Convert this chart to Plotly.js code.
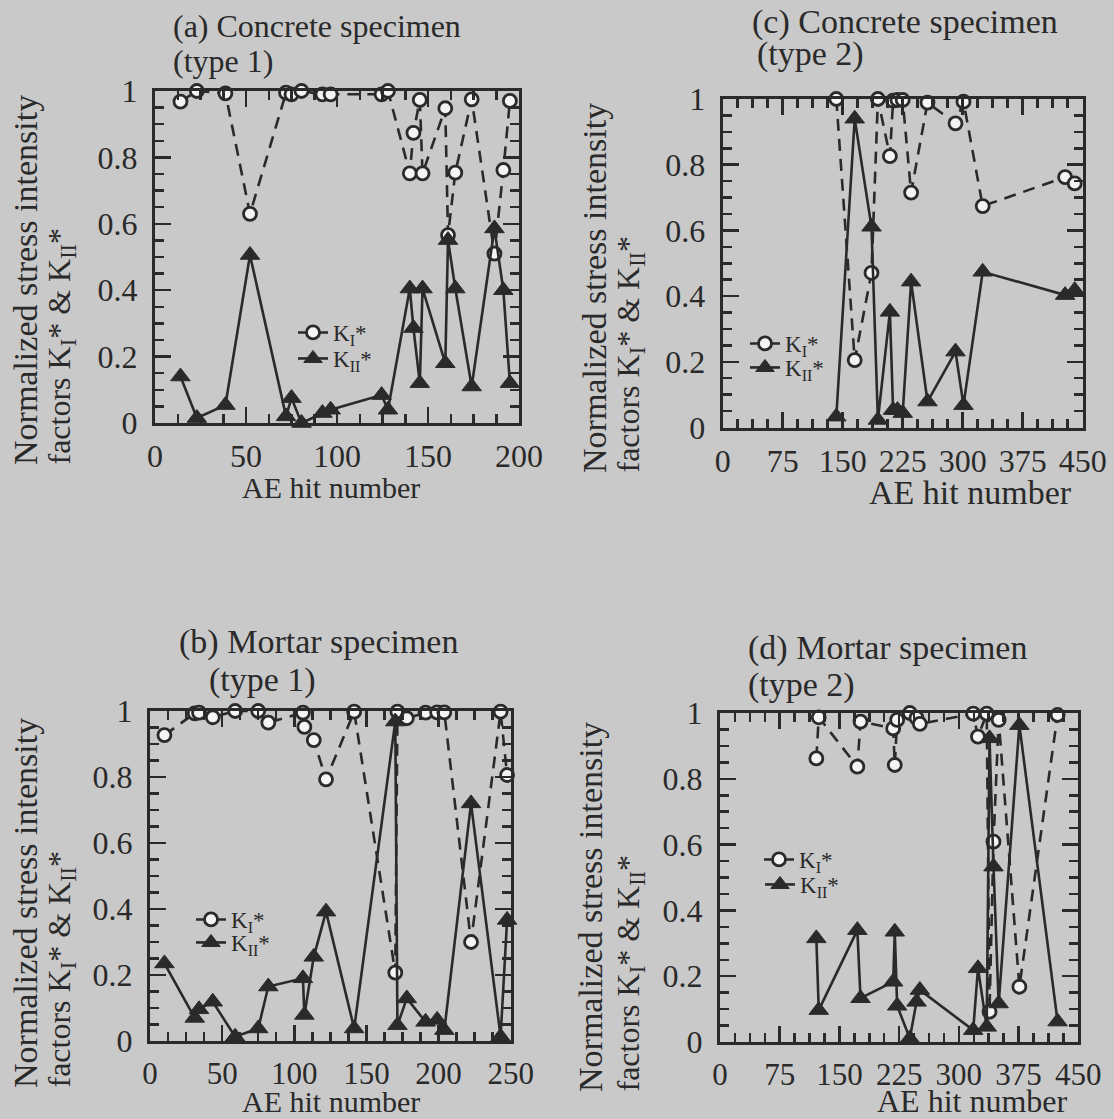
<!DOCTYPE html>
<html>
<head>
<meta charset="utf-8">
<script src="https://cdn.plot.ly/plotly-3.0.1.min.js"></script>
<style>html,body{margin:0;padding:0;background:#c9c9c9;}#chart{width:1114px;height:1119px;}</style>
</head>
<body>
<div id="chart"></div>
<script>
// ---- Data ----
// (a) Concrete specimen (type 1)
const aHits = [14, 23, 38.7, 52.2, 72, 75, 80.5, 92, 96.5, 124.5, 128, 140, 142, 145.5, 147, 159.5, 161, 165, 174, 186.5, 191.4, 195];
const aKI   = [0.968, 1.0, 0.993, 0.63, 0.995, 0.99, 1.0, 0.99, 0.99, 0.99, 1.0, 0.752, 0.874, 0.973, 0.752, 0.948, 0.566, 0.754, 0.975, 0.51, 0.762, 0.97];
const aKII  = [0.14, 0.015, 0.054, 0.506, 0.02, 0.075, 0.0, 0.03, 0.04, 0.084, 0.04, 0.405, 0.286, 0.12, 0.405, 0.18, 0.551, 0.405, 0.11, 0.586, 0.40, 0.12];
// (c) Concrete specimen (type 2)
const cHits = [142, 165, 186, 194, 209, 213, 218.5, 225, 235.5, 256, 291, 301, 325, 428, 440];
const cKI   = [1.0, 0.205, 0.471, 1.0, 0.826, 0.995, 0.997, 0.997, 0.715, 0.989, 0.926, 0.992, 0.674, 0.762, 0.743];
const cKII  = [0.033, 0.94, 0.611, 0.023, 0.352, 0.053, 0.053, 0.044, 0.444, 0.079, 0.231, 0.068, 0.474, 0.403, 0.418];
// (b) Mortar specimen (type 1)
const bHits = [10, 31, 34, 43.5, 59, 75, 82, 106, 107, 113.5, 122, 141.5, 170, 171.5, 178, 191, 199, 204, 222.5, 243, 247.5];
const bKI   = [0.927, 0.993, 0.995, 0.981, 1.0, 1.0, 0.965, 0.995, 0.952, 0.912, 0.793, 0.998, 0.207, 0.998, 0.978, 0.995, 0.996, 0.996, 0.30, 0.998, 0.806];
const bKII  = [0.235, 0.07, 0.096, 0.119, 0.013, 0.038, 0.165, 0.19, 0.079, 0.255, 0.392, 0.038, 0.968, 0.048, 0.129, 0.058, 0.064, 0.033, 0.72, 0.013, 0.367];
// (d) Mortar specimen (type 2)
const dHits = [121, 124, 172.5, 176.5, 217.5, 219.5, 222.5, 238.4, 246.8, 251, 318, 324, 335, 338.5, 343.5, 350, 376, 424];
const dKI   = [0.862, 0.987, 0.837, 0.974, 0.953, 0.842, 0.979, 1.0, 0.985, 0.967, 0.998, 0.928, 0.998, 0.092, 0.609, 0.979, 0.168, 0.994];
const dKII  = [0.315, 0.097, 0.34, 0.133, 0.183, 0.335, 0.11, 0.011, 0.122, 0.158, 0.036, 0.224, 0.046, 0.923, 0.533, 0.117, 0.963, 0.062];

const panelTitles = [
  ["(a) Concrete specimen", "(type 1)"],
  ["(c) Concrete specimen", "(type 2)"],
  ["(b) Mortar specimen", "(type 1)"],
  ["(d) Mortar specimen", "(type 2)"]
];
const yTitle1 = "Normalized stress intensity";
const yTitle2 = "factors K<sub>I</sub>* & K<sub>II</sub>*";
const xTitle = "AE hit number";
const nameKI = "K<sub>I</sub>*";
const nameKII = "K<sub>II</sub>*";

// ---- Layout constants ----
const W = 1114, H = 1119;
const FONT = '"Liberation Serif", "Times New Roman", Times, serif';
const INK = '#2a2a2a';
const BG = '#c9c9c9';

// legend symbol centres: [KI x, KI y, KII x, KII y]
const panels = [
  {hits: aHits, ki: aKI, kii: aKII, px: [155, 519], py: [91, 423], xr: [0, 200], dt: 50, mdt: 12.5,
   title: panelTitles[0], tfs: 32, tpos: [[171, 26], [171, 61]], ytx: [25, 61], yb: 467, xt: [331, 488], xfs: 30, xya: 'middle', xtf: 32,
   leg: [313, 331, 313, 357]},
  {hits: cHits, ki: cKI, kii: cKII, px: [722.7, 1082.7], py: [99, 427.5], xr: [0, 450], dt: 75, mdt: 18.75,
   title: panelTitles[1], tfs: 34, tpos: [[750, 22], [755, 54]], ytx: [594, 630], yb: 475, xt: [970, 492], xfs: 34, xya: 'middle', xtf: 32,
   leg: [765, 342, 765, 366]},
  {hits: bHits, ki: bKI, kii: bKII, px: [150, 510.7], py: [711, 1041], xr: [0, 250], dt: 50, mdt: 12.5,
   title: panelTitles[2], tfs: 34, tpos: [[177, 642], [207, 680]], ytx: [25, 61], yb: 1090, xt: [331, 1120], xfs: 30, xya: 'bottom', xtf: 31,
   leg: [211, 918, 211, 941]},
  {hits: dHits, ki: dKI, kii: dKII, px: [720, 1078.3], py: [713, 1042], xr: [0, 450], dt: 75, mdt: 18.75,
   title: panelTitles[3], tfs: 34, tpos: [[746, 648], [746, 685]], ytx: [590, 630], yb: 1094, xt: [972, 1121], xfs: 32, xya: 'bottom', xtf: 31,
   leg: [779, 858, 780, 883]}
];

const data = [];
const layout = {
  width: W, height: H,
  margin: {l: 0, r: 0, t: 0, b: 0},
  paper_bgcolor: BG, plot_bgcolor: BG,
  font: {family: FONT, color: INK, size: 30},
  showlegend: true,
  annotations: []
};

function legendAt(cx, cy) {
  return {
    x: (cx - 20) / W, y: 1 - (cy - 20) / H, xanchor: 'left', yanchor: 'top',
    bgcolor: 'rgba(0,0,0,0)', borderwidth: 0, font: {family: FONT, size: 23, color: INK},
    tracegroupgap: 0, itemwidth: 30
  };
}

panels.forEach((p, i) => {
  const n = i === 0 ? '' : String(i + 1);
  const xa = 'x' + n, ya = 'y' + n;
  const legKI = i === 0 ? 'legend' : 'legend' + (2 * i + 1);
  const legKII = 'legend' + (2 * i + 2);
  data.push({
    x: p.hits, y: p.ki, xaxis: xa, yaxis: ya, type: 'scatter', mode: 'lines+markers',
    name: nameKI, legend: legKI, cliponaxis: false,
    line: {color: INK, width: 2.6, dash: '12px,8px'},
    marker: {symbol: 'circle', size: 13, color: '#f4f4f4', line: {color: INK, width: 2.8}}
  });
  data.push({
    x: p.hits, y: p.kii, xaxis: xa, yaxis: ya, type: 'scatter', mode: 'lines+markers',
    name: nameKII, legend: legKII, cliponaxis: false,
    line: {color: INK, width: 2.6},
    marker: {symbol: 'triangle-up', size: 17, color: INK, line: {color: INK, width: 1}}
  });
  const axCommon = {
    showgrid: false, zeroline: false, showline: true, linecolor: INK, linewidth: 3,
    mirror: 'allticks', ticks: 'inside', tickcolor: INK, tickwidth: 2.5, ticklen: 16,
    tickfont: {family: FONT, size: 32, color: INK}, fixedrange: true
  };
  layout['xaxis' + n] = Object.assign({}, axCommon, {
    domain: [p.px[0] / W, p.px[1] / W], anchor: ya, range: p.xr, dtick: p.dt, tick0: 0,
    ticklabelstandoff: 3, tickfont: {family: FONT, size: p.xtf, color: INK},
    minor: {dtick: p.mdt, tick0: 0, ticks: 'inside', ticklen: 9, tickwidth: 2.5, tickcolor: INK}
  });
  layout['yaxis' + n] = Object.assign({}, axCommon, {
    domain: [1 - p.py[1] / H, 1 - p.py[0] / H], anchor: xa, range: [0, 1], dtick: 0.2, tick0: 0,
    ticklabelstandoff: 8,
    minor: {dtick: 0.05, tick0: 0, ticks: 'inside', ticklen: 9, tickwidth: 2.5, tickcolor: INK}
  });
  layout[legKI] = legendAt(p.leg[0], p.leg[1]);
  layout[legKII] = legendAt(p.leg[2], p.leg[3]);
  // panel titles
  p.title.forEach((t, k) => {
    layout.annotations.push({
      xref: 'paper', yref: 'paper', x: p.tpos[k][0] / W, y: 1 - p.tpos[k][1] / H,
      xanchor: 'left', yanchor: 'middle', showarrow: false, text: t,
      font: {family: FONT, size: p.tfs, color: INK}
    });
  });
  // y titles (rotated)
  [yTitle1, yTitle2].forEach((t, k) => {
    layout.annotations.push({
      xref: 'paper', yref: 'paper', x: p.ytx[k] / W, y: 1 - p.yb / H,
      xanchor: 'center', yanchor: 'bottom', showarrow: false, text: t, textangle: -90,
      font: {family: FONT, size: k === 0 ? 34 : 32, color: INK}
    });
  });
  // x title
  layout.annotations.push({
    xref: 'paper', yref: 'paper', x: p.xt[0] / W, y: 1 - p.xt[1] / H,
    xanchor: 'center', yanchor: p.xya, showarrow: false, text: xTitle,
    font: {family: FONT, size: p.xfs, color: INK}
  });
});

Plotly.newPlot('chart', data, layout, {staticPlot: true, displayModeBar: false});
</script>
</body>
</html>
